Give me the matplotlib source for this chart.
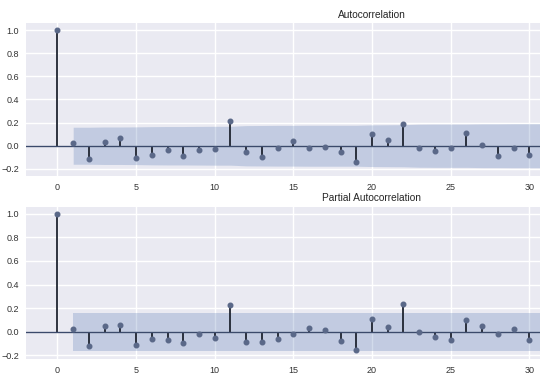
import numpy as np
import matplotlib
matplotlib.use('Agg')
import matplotlib.pyplot as plt

plt.rcParams['font.family'] = ['Liberation Sans', 'DejaVu Sans']

lags = list(range(0, 31))
acf_vals = [1.0, 0.023, -0.115, 0.030, 0.067, -0.110, -0.080, -0.040, -0.086, -0.037,
            -0.026, 0.213, -0.052, -0.100, -0.017, 0.040, -0.017, -0.011, -0.057, -0.138,
            0.101, 0.052, 0.185, -0.017, -0.046, -0.020, 0.110, 0.003, -0.089, -0.020,
            -0.078]
pacf_vals = [1.0, 0.022, -0.117, 0.048, 0.057, -0.110, -0.064, -0.067, -0.100, -0.022,
             -0.050, 0.229, -0.085, -0.090, -0.062, -0.020, 0.031, 0.012, -0.076, -0.155,
             0.110, 0.037, 0.232, -0.006, -0.045, -0.070, 0.097, 0.050, -0.023, 0.023,
             -0.074]

# confidence band half width, lags 1..31
band_lags = list(range(1, 32))
acf_band = [0.160, 0.160, 0.162, 0.162, 0.163, 0.165, 0.166, 0.166, 0.167, 0.168,
            0.168, 0.174, 0.175, 0.176, 0.176, 0.177, 0.177, 0.177, 0.177, 0.180,
            0.181, 0.182, 0.186, 0.187, 0.187, 0.187, 0.189, 0.189, 0.190, 0.190,
            0.190]
pacf_band = [0.161] * 31

xtick_vals = [0, 5, 10, 15, 20, 25, 30]
ytick_vals = [-0.2, 0.0, 0.2, 0.4, 0.6, 0.8, 1.0]

bg = '#EAEAF2'
blue = '#4C72B0'

fig = plt.figure(figsize=(5.4, 3.8), dpi=100)
W, H = 540, 380
# axes run past the right edge of the picture (cropped figure)
ax1 = fig.add_axes([26 / W, 1 - 175.7 / H, (718 - 26) / W, (175.7 - 23.3) / H])
ax2 = fig.add_axes([26 / W, 1 - 359.3 / H, (718 - 26) / W, (359.3 - 206.7) / H])


def draw(ax, vals, band, title, ylim):
    ax.set_facecolor(bg)
    for s in ax.spines.values():
        s.set_visible(False)
    ax.grid(True, color='white', linewidth=1.0)
    ax.set_axisbelow(True)
    ax.vlines(lags, 0, vals, color='#1f2430', linewidth=1.3, zorder=3)
    ax.axhline(0, color='#3b4a6b', linewidth=1.0, zorder=3)
    ax.plot(lags, vals, marker='o', markersize=3.3, linestyle='None',
            color='#5a6888', zorder=4)
    b = np.array(band)
    ax.fill_between(band_lags, -b, b, color=blue, alpha=0.25, linewidth=0, zorder=2)
    ax.set_xlim(-2, 42)
    ax.set_ylim(*ylim)
    ax.set_xticks(xtick_vals)
    ax.set_yticks(ytick_vals)
    ax.tick_params(length=0, labelsize=6.5, colors='#333333', pad=5)
    ax.set_title(title, fontsize=7.3, color='#262626', pad=4)


draw(ax1, acf_vals, acf_band, 'Autocorrelation', (-0.259, 1.058))
draw(ax2, pacf_vals, pacf_band, 'Partial Autocorrelation', (-0.234, 1.06))

fig.savefig('out.png', dpi=100)
